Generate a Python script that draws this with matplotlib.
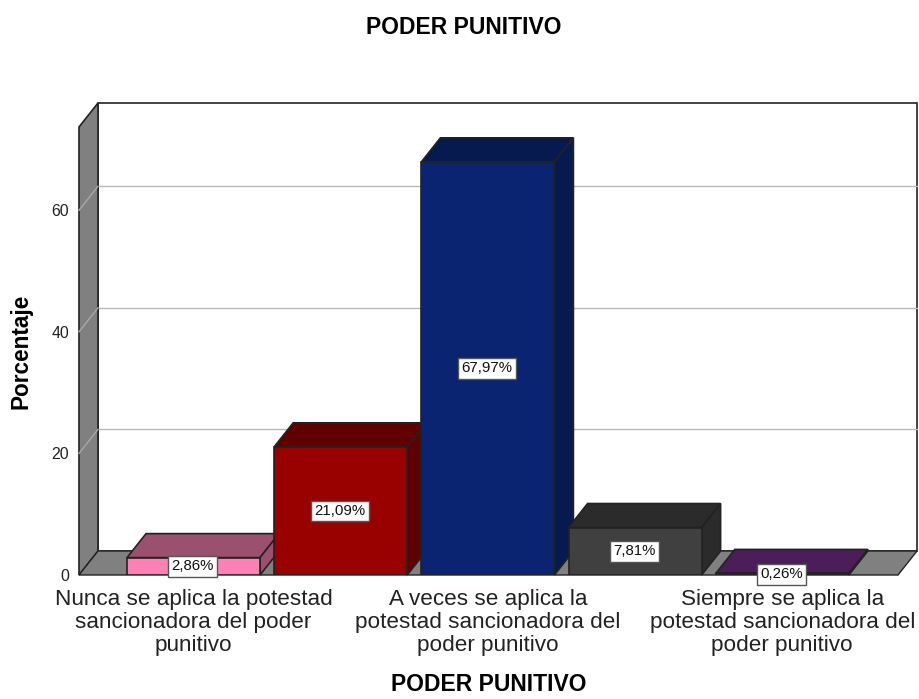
import matplotlib
matplotlib.use('Agg')
import matplotlib.pyplot as plt
from matplotlib.patches import Polygon

plt.rcParams['font.family'] = ['Liberation Sans', 'DejaVu Sans']

# data
categories = ['Nunca se aplica la potestad\nsancionadora del poder\npunitivo',
              '',
              'A veces se aplica la\npotestad sancionadora del\npoder punitivo',
              '',
              'Siempre se aplica la\npotestad sancionadora del\npoder punitivo']
percentages = [2.86, 21.09, 67.97, 7.81, 0.26]
percent_labels = ['2,86%', '21,09%', '67,97%', '7,81%', '0,26%']
y_ticks = [0, 20, 40, 60]
front_colors = ['#ff80b4', '#990000', '#0a2472', '#404040', '#4b1e5a']
top_colors = ['#9c5070', '#600000', '#061a50', '#2b2b2b', '#4b1e5a']
side_colors = ['#9c5070', '#600000', '#061a50', '#2b2b2b', '#4b1e5a']

W, H = 920, 699
fig = plt.figure(figsize=(W / 100, H / 100), dpi=100)

# axes is the front plane of the fake 3d box
left, right, top, bottom = 79, 898, 127, 575
ax = fig.add_axes([left / W, 1 - bottom / H, (right - left) / W, (bottom - top) / H])
ax.set_xlim(-0.778, 4.786)
ax.set_ylim(0, 73.7)
for s in ax.spines.values():
    s.set_visible(False)
ax.patch.set_alpha(0)

# depth of the box in data units
dx = 19 * (4.786 + 0.778) / (right - left)
dy = 24 * 73.7 / (bottom - top)
x0, x1 = ax.get_xlim()
y1 = ax.get_ylim()[1]
edge = '#222222'


def poly(points, color, z, lw=1.2):
    ax.add_patch(Polygon(points, closed=True, facecolor=color, edgecolor=edge,
                         linewidth=lw, zorder=z, clip_on=False))


# walls
poly([(x0 + dx, dy), (x1 + dx, dy), (x1 + dx, y1 + dy), (x0 + dx, y1 + dy)], 'white', 1)
poly([(x0, 0), (x0 + dx, dy), (x0 + dx, y1 + dy), (x0, y1)], '#808080', 2)
poly([(x0, 0), (x1, 0), (x1 + dx, dy), (x0 + dx, dy)], '#808080', 2, lw=1)

for t in y_ticks[1:]:
    ax.plot([x0 + dx, x1 + dx], [t + dy, t + dy], color='#b8b8b8', lw=1, zorder=1.5, clip_on=False)
    ax.plot([x0, x0 + dx], [t, t + dy], color='#a8a8a8', lw=1, zorder=2.5, clip_on=False)

# bars, left to right so the next one hides the side of the one before
width = 133 / 147.2
bars = ax.bar(range(len(percentages)), percentages, width=width, color=front_colors,
              edgecolor=edge, linewidth=1.2)
for i, b in enumerate(bars):
    z = 3 + i
    b.set_zorder(z + 0.5)
    xa, xb, h = b.get_x(), b.get_x() + b.get_width(), b.get_height()
    poly([(xa, h), (xb, h), (xb + dx, h + dy), (xa + dx, h + dy)], top_colors[i], z)
    poly([(xb, 0), (xb + dx, dy), (xb + dx, h + dy), (xb, h)], side_colors[i], z)
    ax.text(i - 0.005, h / 2, percent_labels[i], ha='center', va='center', fontsize=10.8,
            color='#111111', zorder=20,
            bbox=dict(boxstyle='square,pad=0.22', facecolor='white', edgecolor='#555555', linewidth=1))

ax.set_xticks(range(len(categories)))
ax.set_xticklabels(categories, fontsize=16.2, color='#222222', linespacing=1.13)
ax.set_yticks(y_ticks)
ax.tick_params(axis='x', length=0, pad=10)
ax.tick_params(axis='y', length=0, pad=7, labelsize=11.4, labelcolor='#222222')

ax.set_ylabel('Porcentaje', fontsize=16.3, fontweight='bold', labelpad=14)
ax.set_xlabel('PODER PUNITIVO', fontsize=16.5, fontweight='bold', labelpad=12)
fig.text(464 / W, 1 - 27 / H, 'PODER PUNITIVO', ha='center', va='center', fontsize=16.5, fontweight='bold')

fig.savefig('out.png', dpi=100)
